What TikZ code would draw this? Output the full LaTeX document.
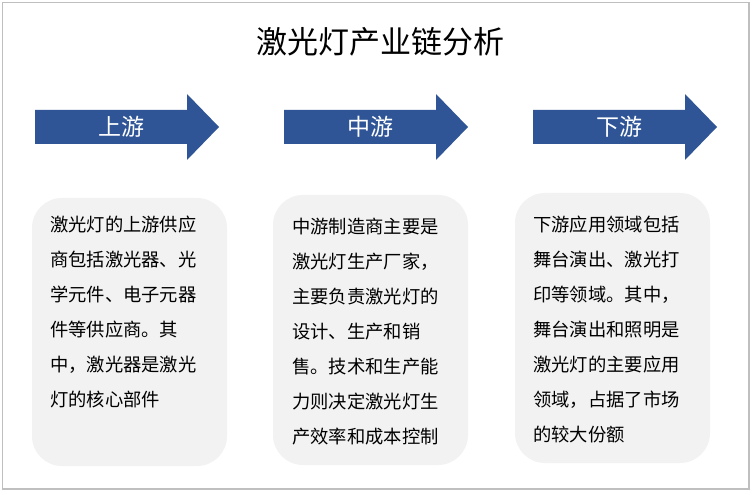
\documentclass[tikz,border=0pt]{standalone}
\usepackage{fontspec}
\setmainfont{Noto Sans CJK SC}
\usetikzlibrary{positioning}
\definecolor{arrowblue}{HTML}{2F5597}
\definecolor{boxgray}{HTML}{F2F2F2}
\definecolor{framegray}{HTML}{BFBFBF}
\begin{document}
\begin{tikzpicture}[x=1pt,y=-1pt,
  stagearrow/.style={fill=arrowblue,draw=none},
  stagelabel/.style={text=white,font=\fontsize{23}{26}\selectfont,inner sep=0pt},
  infobox/.style={fill=boxgray,draw=none,rounded corners=30pt},
  infotext/.style={anchor=north west,align=left,inner sep=0pt,font=\fontsize{18.3}{35}\selectfont}]
\useasboundingbox (0,0) rectangle (753,492);
\fill[white] (0,0) rectangle (753,492);
\draw[framegray,line width=1.6pt] (2.5,2.5) rectangle (749,489);
\node[inner sep=0pt,font=\fontsize{31}{34}\selectfont] (title) at (380.5,42) {激光灯产业链分析};
% arrows
\foreach \dx/\nm/\lab in {0/a1/上游,249/a2/中游,498/a3/下游}{
  \fill[stagearrow] (35+\dx,110) -- (187+\dx,110) -- (187+\dx,94) -- (219+\dx,127) -- (187+\dx,160) -- (187+\dx,144) -- (35+\dx,144) -- cycle;
  \node[stagelabel] (\nm) at (121+\dx,127) {\lab};
}
% boxes
\fill[infobox] (32,198) rectangle (227,466);
\fill[infobox] (273,195) rectangle (468,465);
\fill[infobox] (515,193) rectangle (710,463);
\node[infotext] (t1) at (50,216) {激光灯的上游供应\\商包括激光器、光\\学元件、电子元器\\件等供应商。其\\中，激光器是激光\\灯的核心部件};
\node[infotext] (t2) at (292,218) {中游制造商主要是\\激光灯生产厂家，\\主要负责激光灯的\\设计、生产和销\\售。技术和生产能\\力则决定激光灯生\\产效率和成本控制};
\node[infotext] (t3) at (533,216) {下游应用领域包括\\舞台演出、激光打\\印等领域。其中，\\舞台演出和照明是\\激光灯的主要应用\\领域，占据了市场\\的较大份额};
\end{tikzpicture}
\end{document}
